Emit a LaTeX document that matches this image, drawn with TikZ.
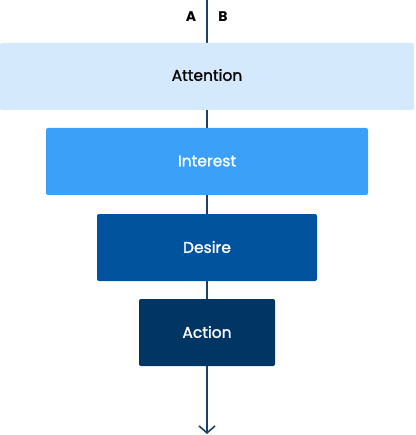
\documentclass[tikz,border=0pt]{standalone}
\usepackage{fontspec}
\setmainfont{Poppins}
\newfontfamily\medfont{Poppins}[FakeBold=1.3]
\usetikzlibrary{arrows.meta}
\definecolor{lineblue}{HTML}{1D3F66}
\definecolor{attc}{HTML}{D4EAFC}
\definecolor{intc}{HTML}{3BA0F7}
\definecolor{desc}{HTML}{00539C}
\definecolor{actc}{HTML}{003564}
\begin{document}
\begin{tikzpicture}[x=1pt,y=-1pt,
  stage/.style={rounded corners=2pt, inner sep=0pt, font=\medfont\fontsize{15.5}{18}\selectfont},
  lbl/.style={font=\fontsize{14}{16}\selectfont\bfseries, text=black}]
\useasboundingbox (0,0) rectangle (415,435);
\coordinate (top) at (207,0);
\coordinate (bot) at (207,434);
\draw[lineblue, line width=1.6pt, -{Straight Barb[length=7pt,width=16pt,line width=1.6pt]}] (top) -- (bot);
\fill[attc, rounded corners=2pt] (0,43) rectangle (414,110);
\node[stage, text=black] (att) at (207,75) {Attention};
\fill[intc, rounded corners=2pt] (46,128) rectangle (368,195);
\node[stage, text=white] (int) at (207,161) {Interest};
\fill[desc, rounded corners=2pt] (97,214) rectangle (317,281);
\node[stage, text=white] (des) at (207,247) {Desire};
\fill[actc, rounded corners=2pt] (139,299) rectangle (275,366);
\node[stage, text=white] (act) at (207,332) {Action};
\node[lbl] (a) at (191,17) {A};
\node[lbl] (b) at (223,17) {B};
\end{tikzpicture}
\end{document}
